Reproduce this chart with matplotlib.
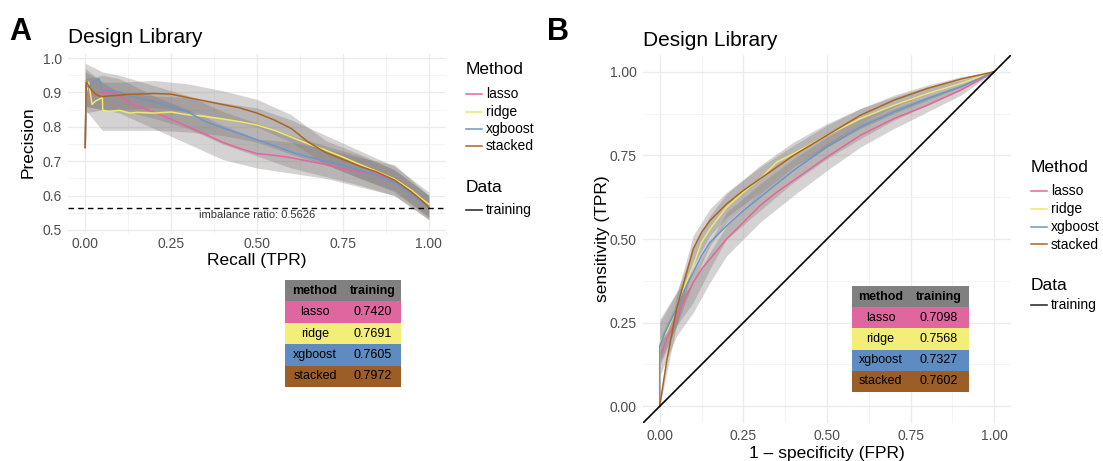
import matplotlib
matplotlib.use('Agg')
import matplotlib.pyplot as plt
from matplotlib.lines import Line2D
from matplotlib.patches import Rectangle
from matplotlib.ticker import MultipleLocator

plt.rcParams['font.family'] = ['Liberation Sans', 'DejaVu Sans']

# ---------------- data ----------------
methods = ['lasso', 'ridge', 'xgboost', 'stacked']
line_colors = ['#E8639D', '#EFE86A', '#6C95CB', '#A9651F']
cell_colors = ['#E066A0', '#F3EE78', '#5E8CC0', '#9B5E27']

# panel A: precision-recall curves
recall = [0, 0.003, 0.01, 0.02, 0.03, 0.04, 0.05, 0.051, 0.07, 0.1, 0.13, 0.15,
          0.2, 0.25, 0.3, 0.35, 0.4, 0.45, 0.5, 0.55, 0.6, 0.65, 0.7, 0.75,
          0.8, 0.85, 0.9, 0.95, 0.98, 1.0]
prec_lasso = [0.74, 0.885, 0.89, 0.892, 0.895, 0.898, 0.9, 0.9, 0.9, 0.89, 0.87, 0.86,
              0.843, 0.822, 0.8, 0.778, 0.755, 0.737, 0.722, 0.717, 0.71, 0.7, 0.69, 0.678,
              0.668, 0.662, 0.645, 0.61, 0.585, 0.565]
prec_ridge = [0.74, 0.9, 0.93, 0.865, 0.875, 0.88, 0.885, 0.848, 0.845, 0.848, 0.84, 0.842,
              0.84, 0.843, 0.835, 0.83, 0.823, 0.815, 0.805, 0.79, 0.77, 0.75, 0.732, 0.712,
              0.69, 0.67, 0.648, 0.615, 0.59, 0.575]
prec_xgb = [0.74, 0.92, 0.915, 0.925, 0.935, 0.94, 0.905, 0.905, 0.905, 0.902, 0.89, 0.885,
            0.873, 0.858, 0.843, 0.815, 0.797, 0.78, 0.762, 0.745, 0.727, 0.712, 0.7, 0.688,
            0.673, 0.658, 0.638, 0.603, 0.58, 0.565]
prec_stacked = [0.74, 0.93, 0.92, 0.905, 0.895, 0.89, 0.888, 0.888, 0.89, 0.892, 0.895, 0.895,
                0.897, 0.895, 0.885, 0.875, 0.865, 0.855, 0.84, 0.82, 0.795, 0.755, 0.725, 0.705,
                0.685, 0.668, 0.645, 0.61, 0.585, 0.565]

# confidence bands for panel A
band_recall = [0, 0.05, 0.1, 0.2, 0.3, 0.4, 0.5, 0.6, 0.7, 0.8, 0.9, 1.0]
pr_lo_lasso = [0.84, 0.85, 0.84, 0.795, 0.75, 0.705, 0.68, 0.665, 0.65, 0.625, 0.6, 0.53]
pr_hi_lasso = [0.94, 0.95, 0.94, 0.89, 0.85, 0.805, 0.765, 0.755, 0.735, 0.71, 0.69, 0.6]
pr_lo_ridge = [0.85, 0.79, 0.79, 0.79, 0.785, 0.775, 0.755, 0.72, 0.69, 0.65, 0.61, 0.54]
pr_hi_ridge = [0.97, 0.93, 0.9, 0.89, 0.885, 0.87, 0.855, 0.82, 0.775, 0.73, 0.685, 0.61]
pr_lo_xgb = [0.86, 0.85, 0.85, 0.825, 0.795, 0.75, 0.715, 0.68, 0.655, 0.63, 0.6, 0.53]
pr_hi_xgb = [0.985, 0.96, 0.95, 0.92, 0.89, 0.845, 0.81, 0.775, 0.745, 0.715, 0.675, 0.6]
pr_lo_stacked = [0.86, 0.85, 0.85, 0.855, 0.845, 0.825, 0.8, 0.755, 0.69, 0.65, 0.615, 0.535]
pr_hi_stacked = [0.96, 0.93, 0.93, 0.935, 0.925, 0.905, 0.88, 0.835, 0.76, 0.72, 0.675, 0.6]

imbalance = 0.5626
pr_auc = ['0.7420', '0.7691', '0.7605', '0.7972']

# panel B: ROC curves
fpr = [0, 0, 0.02, 0.05, 0.075, 0.1, 0.125, 0.15, 0.2, 0.25, 0.3, 0.35, 0.4,
       0.5, 0.6, 0.7, 0.8, 0.9, 1.0]
tpr_lasso = [0, 0.14, 0.2, 0.26, 0.32, 0.37, 0.41, 0.44, 0.5, 0.55, 0.6, 0.64, 0.675,
             0.745, 0.81, 0.86, 0.9, 0.945, 1.0]
tpr_ridge = [0, 0.19, 0.22, 0.29, 0.36, 0.42, 0.49, 0.53, 0.595, 0.64, 0.68, 0.73, 0.755,
             0.81, 0.86, 0.9, 0.935, 0.965, 1.0]
tpr_xgb = [0, 0.18, 0.23, 0.29, 0.35, 0.4, 0.45, 0.49, 0.54, 0.585, 0.625, 0.665, 0.705,
           0.775, 0.835, 0.88, 0.92, 0.955, 1.0]
tpr_stacked = [0, 0, 0.13, 0.29, 0.38, 0.47, 0.52, 0.555, 0.605, 0.645, 0.68, 0.715, 0.75,
               0.81, 0.87, 0.915, 0.95, 0.978, 1.0]

band_fpr = [0, 0.05, 0.1, 0.15, 0.2, 0.3, 0.4, 0.5, 0.6, 0.7, 0.8, 0.9, 1.0]
roc_lo_lasso = [0.09, 0.21, 0.28, 0.37, 0.45, 0.55, 0.63, 0.705, 0.775, 0.83, 0.88, 0.93, 1.0]
roc_hi_lasso = [0.2, 0.31, 0.37, 0.46, 0.54, 0.64, 0.715, 0.785, 0.845, 0.89, 0.925, 0.96, 1.0]
roc_lo_ridge = [0.13, 0.24, 0.37, 0.48, 0.55, 0.635, 0.715, 0.775, 0.83, 0.875, 0.915, 0.955, 1.0]
roc_hi_ridge = [0.26, 0.34, 0.47, 0.57, 0.635, 0.72, 0.79, 0.845, 0.89, 0.925, 0.955, 0.975, 1.0]
roc_lo_xgb = [0.12, 0.24, 0.31, 0.41, 0.5, 0.585, 0.67, 0.74, 0.8, 0.855, 0.9, 0.945, 1.0]
roc_hi_xgb = [0.25, 0.34, 0.4, 0.49, 0.58, 0.665, 0.74, 0.805, 0.865, 0.905, 0.94, 0.97, 1.0]
roc_lo_stacked = [0.0, 0.24, 0.42, 0.51, 0.565, 0.64, 0.715, 0.78, 0.845, 0.895, 0.935, 0.97, 1.0]
roc_hi_stacked = [0.0, 0.33, 0.51, 0.59, 0.64, 0.715, 0.78, 0.84, 0.89, 0.93, 0.96, 0.985, 1.0]

roc_auc = ['0.7098', '0.7568', '0.7327', '0.7602']

# ---------------- figure ----------------
W, H = 1103, 461
fig = plt.figure(figsize=(W / 100, H / 100), dpi=100)


def fx(px):
    return px / W


def fy(py):
    return 1 - py / H


def style_axes(ax, minor_x, minor_y, xpad):
    ax.xaxis.set_minor_locator(MultipleLocator(minor_x))
    ax.yaxis.set_minor_locator(MultipleLocator(minor_y))
    ax.grid(True, which='major', color='#EBEBEB', lw=1.0)
    ax.grid(True, which='minor', color='#F2F2F2', lw=0.6)
    ax.set_axisbelow(True)
    for s in ax.spines.values():
        s.set_visible(False)
    ax.tick_params(which='both', length=0, labelsize=10, labelcolor='#4D4D4D')
    ax.tick_params(axis='x', pad=xpad)
    ax.tick_params(axis='y', pad=4.5)


band_col = '#7f7878'

# panel A
axA = fig.add_axes([fx(68), fy(234), (446 - 68) / W, (234 - 54) / H])
pr_lines = [prec_lasso, prec_ridge, prec_xgb, prec_stacked]
pr_bands = [(pr_lo_lasso, pr_hi_lasso), (pr_lo_ridge, pr_hi_ridge),
            (pr_lo_xgb, pr_hi_xgb), (pr_lo_stacked, pr_hi_stacked)]
for lo, hi in pr_bands:
    axA.fill_between(band_recall, lo, hi, color=band_col, alpha=0.33, lw=0)
for y, c in zip(pr_lines, line_colors):
    axA.plot(recall, y, color=c, lw=1.1)
axA.axhline(imbalance, color='black', lw=1.0, ls=(0, (4, 3)))
axA.text(0.5, imbalance - 0.004, 'imbalance ratio: %.4f' % imbalance, ha='center', va='top',
         fontsize=8, color='#333333')
axA.set_xlim(-0.05, 1.05)
axA.set_ylim(0.488, 1.012)
axA.set_xticks([0, 0.25, 0.5, 0.75, 1.0])
axA.set_xticklabels(['0.00', '0.25', '0.50', '0.75', '1.00'])
axA.set_yticks([0.5, 0.6, 0.7, 0.8, 0.9, 1.0])
style_axes(axA, 0.125, 0.05, 2)

# panel B
axB = fig.add_axes([fx(643), fy(423), (1011 - 643) / W, (423 - 55) / H])
roc_lines = [tpr_lasso, tpr_ridge, tpr_xgb, tpr_stacked]
roc_bands = [(roc_lo_lasso, roc_hi_lasso), (roc_lo_ridge, roc_hi_ridge),
             (roc_lo_xgb, roc_hi_xgb), (roc_lo_stacked, roc_hi_stacked)]
for lo, hi in roc_bands:
    axB.fill_between(band_fpr, lo, hi, color=band_col, alpha=0.33, lw=0)
for y, c in zip(roc_lines, line_colors):
    axB.plot(fpr, y, color=c, lw=1.1)
axB.axline((0, 0), slope=1, color='black', lw=1.2)
axB.set_xlim(-0.05, 1.05)
axB.set_ylim(-0.05, 1.05)
ticks = [0, 0.25, 0.5, 0.75, 1.0]
tick_labels = ['0.00', '0.25', '0.50', '0.75', '1.00']
axB.set_xticks(ticks)
axB.set_xticklabels(tick_labels)
axB.set_yticks(ticks)
axB.set_yticklabels(tick_labels)
style_axes(axB, 0.125, 0.125, 4)

# titles, labels
fig.text(fx(9), fy(40), 'A', fontsize=22, fontweight='bold', va='baseline')
fig.text(fx(547), fy(40), 'B', fontsize=22, fontweight='bold', va='baseline')
fig.text(fx(68), fy(43), 'Design Library', fontsize=15, va='baseline')
fig.text(fx(643), fy(46), 'Design Library', fontsize=15, va='baseline')
fig.text(fx(257), fy(260), 'Recall (TPR)', fontsize=12.5, ha='center', va='center')
fig.text(fx(28), fy(142), 'Precision', fontsize=12.5, ha='center', va='center', rotation=90)
fig.text(fx(827), fy(458), '1 \u2013 specificity (FPR)', fontsize=12.5, ha='center', va='baseline')
fig.text(fx(603), fy(239), 'sensitivity (TPR)', fontsize=12.5, ha='center', va='center', rotation=90)


# legends
def legend(x, y_title, y_items, y_data, y_train):
    fig.text(fx(x), fy(y_title), 'Method', fontsize=12.5, va='center')
    for m, c, yy in zip(methods, line_colors, y_items):
        fig.add_artist(Line2D([fx(x), fx(x + 16)], [fy(yy), fy(yy)], color=c, lw=1.1,
                              transform=fig.transFigure))
        fig.text(fx(x + 20), fy(yy), m, fontsize=10, va='center')
    fig.text(fx(x), fy(y_data), 'Data', fontsize=12.5, va='center')
    fig.add_artist(Line2D([fx(x), fx(x + 16)], [fy(y_train), fy(y_train)], color='#333333',
                          lw=1.2, transform=fig.transFigure))
    fig.text(fx(x + 20), fy(y_train), 'training', fontsize=10, va='center')


legend(466, 70, [94, 111.5, 129, 146.5], 188, 210)
legend(1031, 168, [191, 209, 227, 244.5], 286, 305)


# AUC tables
def table(left, top, w1, w2, rh, values):
    rows = [('method', 'training', '#808080')] + \
           [(m, v, c) for m, v, c in zip(methods, values, cell_colors)]
    for i, (a, b, c) in enumerate(rows):
        y0 = top + i * rh
        fig.add_artist(Rectangle((fx(left), fy(y0 + rh)), (w1 + w2) / W, rh / H,
                                 facecolor=c, edgecolor='none', transform=fig.transFigure))
        fw = 'bold' if i == 0 else 'normal'
        fig.text(fx(left + w1 / 2), fy(y0 + rh / 2), a, fontsize=9, ha='center',
                 va='center', fontweight=fw)
        fig.text(fx(left + w1 + w2 / 2), fy(y0 + rh / 2), b, fontsize=9, ha='center',
                 va='center', fontweight=fw)


table(285, 280, 60, 56, 21.4, pr_auc)
table(852, 286, 57, 60, 21.2, roc_auc)

fig.savefig('out.png', dpi=100)
